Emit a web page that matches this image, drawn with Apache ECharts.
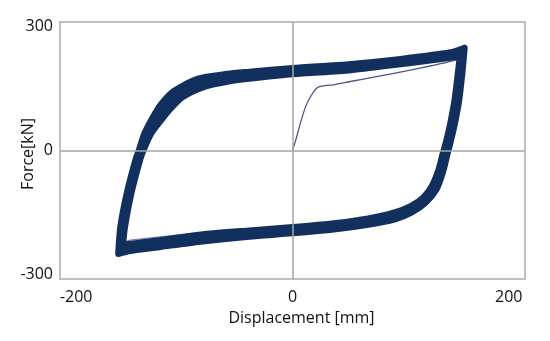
<!DOCTYPE html>
<html>
<head>
<meta charset="utf-8">
<script src="https://cdn.jsdelivr.net/npm/echarts@6/dist/echarts.min.js"></script>
<style>
  html, body { margin: 0; padding: 0; background: #fff; }
  #chart { width: 550px; height: 341px; }
</style>
</head>
<body>
<div id="chart"></div>
<script>
const FONT = '"Open Sans", "Noto Sans", sans-serif';
const NAVY = "#12305e";
const THIN = "#4a5684";

const xTicks = [-200, 0, 200];
const yTicks = [-300, 0, 300];

// virgin loading branch (mm, kN)
const initial = [
  [0, 0], [3, 25], [7.4, 67], [12, 105], [16.6, 130], [22.8, 152], [30, 157],
  [38, 159], [53.6, 167], [80, 180], [110, 195], [137, 210], [155, 222]
];

// first cycle, mostly hidden under the band
const firstCycle = [
  [155, 222], [151, 150], [146, 60], [140, 0], [134, -60], [125, -103],
  [110, -132], [80, -158], [0, -182], [-85, -199], [-150, -217], [-156, -222],
  [-154, -180]
];

// outer edge of the cycled band
const outerLoop = [
  [159, 248], [157, 190], [154, 122], [150, 65], [146, 20], [143, -10],
  [139, -52], [133, -94], [123, -126], [110, -150], [95, -166], [70, -179],
  [40, -190], [0, -200], [-40, -208], [-85, -220], [-122, -233], [-150, -243],
  [-161, -250], [-159, -184], [-153, -102], [-145, -22], [-142, 0], [-137, 40],
  [-130, 76], [-122, 110], [-110, 143], [-88, 173], [-60, 185], [-40, 190],
  [0, 199], [54, 209], [100, 221], [146, 237], [159, 248]
];

// middle cycles of the band
const middleLoop = [
  [157, 239], [155, 188], [152, 122], [148, 65], [144, 20], [141, -9],
  [137, -50], [131, -90], [122, -120], [110, -142], [95, -158], [70, -172],
  [40, -183], [0, -193], [-40, -201], [-85, -212], [-122, -225], [-150, -234],
  [-159, -240], [-157, -184], [-151, -102], [-143, -22], [-140, 0], [-134, 40],
  [-126, 74], [-118, 106], [-106, 137], [-85, 164], [-60, 176], [-40, 182],
  [0, 192], [54, 202], [100, 215], [146, 231], [157, 239]
];

// inner edge of the cycled band
const innerLoop = [
  [155, 230], [153, 186], [150, 122], [146, 65], [142, 20], [139, -8],
  [135, -48], [129, -86], [121, -114], [110, -134], [95, -150], [70, -165],
  [40, -176], [0, -186], [-40, -194], [-85, -204], [-122, -217], [-150, -226],
  [-157, -230], [-155, -184], [-149, -102], [-141, -22], [-138, 0], [-131, 40],
  [-122, 72], [-113, 101], [-102, 129], [-82, 154], [-60, 167], [-40, 174],
  [0, 185], [54, 195], [100, 209], [146, 225], [155, 230]
];

const chart = echarts.init(document.getElementById("chart"), null, { renderer: "canvas" });

const band = (data) => ({
  type: "line",
  data,
  smooth: 0.25,
  showSymbol: false,
  silent: true,
  z: 3,
  lineStyle: { color: NAVY, width: 6.5, join: "round", cap: "round" },
});

chart.setOption({
  backgroundColor: "#fff",
  animation: false,
  grid: {
    left: 60, right: 25, top: 22, bottom: 62,
    containLabel: false,
    outerBoundsMode: "none",
    show: true, borderColor: "#c0c0c0", borderWidth: 2,
  },
  xAxis: {
    type: "value",
    min: -215, max: 215,
    name: "Displacement [mm]",
    nameLocation: "middle",
    nameGap: 31,
    nameMoveOverlap: false,
    nameTextStyle: { color: "#111", fontSize: 16, fontFamily: FONT, padding: [0, 0, 0, 18] },
    axisLine: { show: false },
    axisTick: { show: false },
    splitLine: { show: false },
    axisLabel: {
      customValues: xTicks,
      color: "#111", fontSize: 16, fontFamily: FONT, margin: 10,
    },
  },
  yAxis: {
    type: "value",
    min: -311, max: 311,
    name: "Force[kN]",
    nameLocation: "middle",
    nameGap: 24,
    nameMoveOverlap: false,
    nameTextStyle: { color: "#111", fontSize: 16, fontFamily: FONT, padding: [0, 7, 0, 0] },
    axisLine: { show: false },
    axisTick: { show: false },
    splitLine: { show: false },
    axisLabel: {
      customValues: yTicks,
      color: "#111", fontSize: 16, fontFamily: FONT, margin: 7,
    },
  },
  series: [
    {
      type: "line",
      data: initial,
      smooth: 0.3,
      showSymbol: false,
      silent: true,
      lineStyle: { color: THIN, width: 1.3 },
      markLine: {
        symbol: "none",
        silent: true,
        label: { show: false },
        lineStyle: { color: "#a6a6a6", width: 1.5, type: "solid" },
        data: [{ xAxis: 0 }, { yAxis: 0 }],
      },
      z: 1,
    },
    {
      type: "line",
      data: firstCycle,
      smooth: 0.3,
      showSymbol: false,
      silent: true,
      lineStyle: { color: "#7d86a6", width: 1.2 },
      z: 2,
    },
    band(outerLoop),
    band(middleLoop),
    band(innerLoop),
  ],
});
</script>
</body>
</html>
